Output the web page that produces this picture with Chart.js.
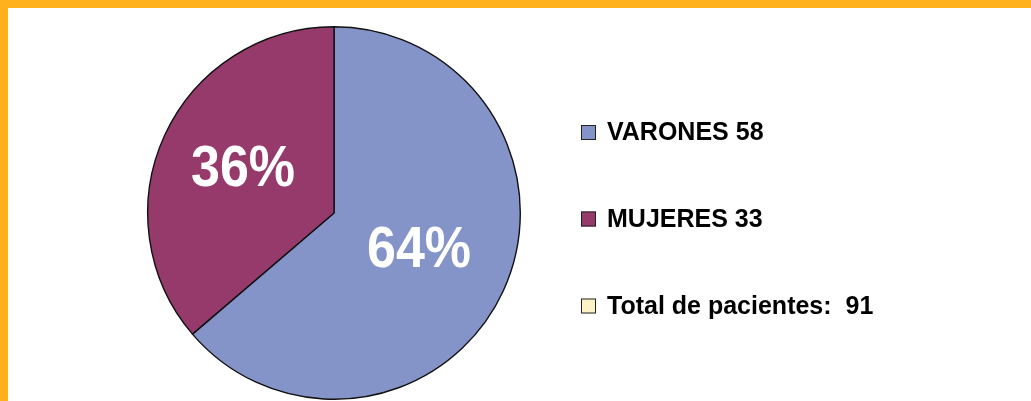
<!DOCTYPE html>
<html>
<head>
<meta charset="utf-8">
<script src="https://cdn.jsdelivr.net/npm/chart.js@4.4.1/dist/chart.umd.min.js"></script>
<style>
  html, body { margin: 0; padding: 0; background: #ffffff; }
  #wrap { position: relative; width: 1031px; height: 401px; overflow: hidden; background: #ffffff; }
  #c { position: absolute; left: 0; top: 0; }
  .bar { position: absolute; background: #feb11c; }
</style>
</head>
<body>
<div id="wrap">
  <canvas id="c" width="1031" height="401"></canvas>
  <div class="bar" style="left:0;top:0;width:1031px;height:8px;"></div>
  <div class="bar" style="left:0;top:0;width:8px;height:401px;"></div>
</div>
<script>
const categories = ["VARONES", "MUJERES"];
const values = [58, 33];
const sliceColors = ["#8594c8", "#963a6c"];
const totalLabel = "Total de pacientes:";
const totalColor = "#fdf2c6";

const total = values.reduce((a, b) => a + b, 0);

const labelPlugin = {
  id: 'sliceLabels',
  afterDatasetsDraw(chart) {
    const ctx = chart.ctx;
    const meta = chart.getDatasetMeta(0);
    ctx.save();
    ctx.fillStyle = '#ffffff';
    ctx.font = 'bold 52px "Liberation Sans", Arial, sans-serif';
    ctx.textAlign = 'center';
    ctx.textBaseline = 'middle';
    meta.data.forEach((arc, i) => {
      const p = arc.getProps(['x', 'y', 'startAngle', 'endAngle', 'outerRadius'], true);
      const mid = (p.startAngle + p.endAngle) / 2;
      const r = p.outerRadius * 0.52;
      const pct = Math.round(values[i] / total * 100) + '%';
      const tx = p.x + Math.cos(mid) * r - 3;
      const ty = p.y + Math.sin(mid) * r - 2;
      ctx.save();
      ctx.translate(tx, ty);
      ctx.scale(1, 1.1);
      ctx.fillText(pct, 0, 0);
      ctx.restore();
    });
    ctx.restore();
  }
};

const legendPlugin = {
  id: 'sideLegend',
  afterDraw(chart) {
    const ctx = chart.ctx;
    const items = categories.map((c, i) => ({ text: c + ' ' + values[i], color: sliceColors[i] }));
    items.push({ text: totalLabel + '  ' + total, color: totalColor });
    const x0 = 581, rowY = [132.5, 219, 306], box = 15;
    ctx.save();
    ctx.font = 'bold 25px "Liberation Sans", Arial, sans-serif';
    ctx.textBaseline = 'middle';
    ctx.textAlign = 'left';
    items.forEach((it, i) => {
      const y = rowY[i];
      ctx.fillStyle = it.color;
      ctx.fillRect(x0, y - box / 2, box, box);
      ctx.strokeStyle = '#222222';
      ctx.lineWidth = 1;
      ctx.strokeRect(x0 + 0.5, y - box / 2 + 0.5, box - 1, box - 1);
      ctx.fillStyle = '#000000';
      ctx.fillText(it.text, x0 + 26, y + 1);
    });
    ctx.restore();
  }
};

new Chart(document.getElementById('c'), {
  type: 'pie',
  data: {
    labels: categories,
    datasets: [{
      data: values,
      backgroundColor: sliceColors,
      borderColor: '#111111',
      borderWidth: 1.4,
      hoverOffset: 0
    }]
  },
  options: {
    responsive: false,
    animation: false,
    layout: { padding: { left: 147, top: 26, right: 510, bottom: 1 } },
    plugins: {
      legend: { display: false },
      tooltip: { enabled: false }
    }
  },
  plugins: [labelPlugin, legendPlugin]
});
</script>
</body>
</html>
